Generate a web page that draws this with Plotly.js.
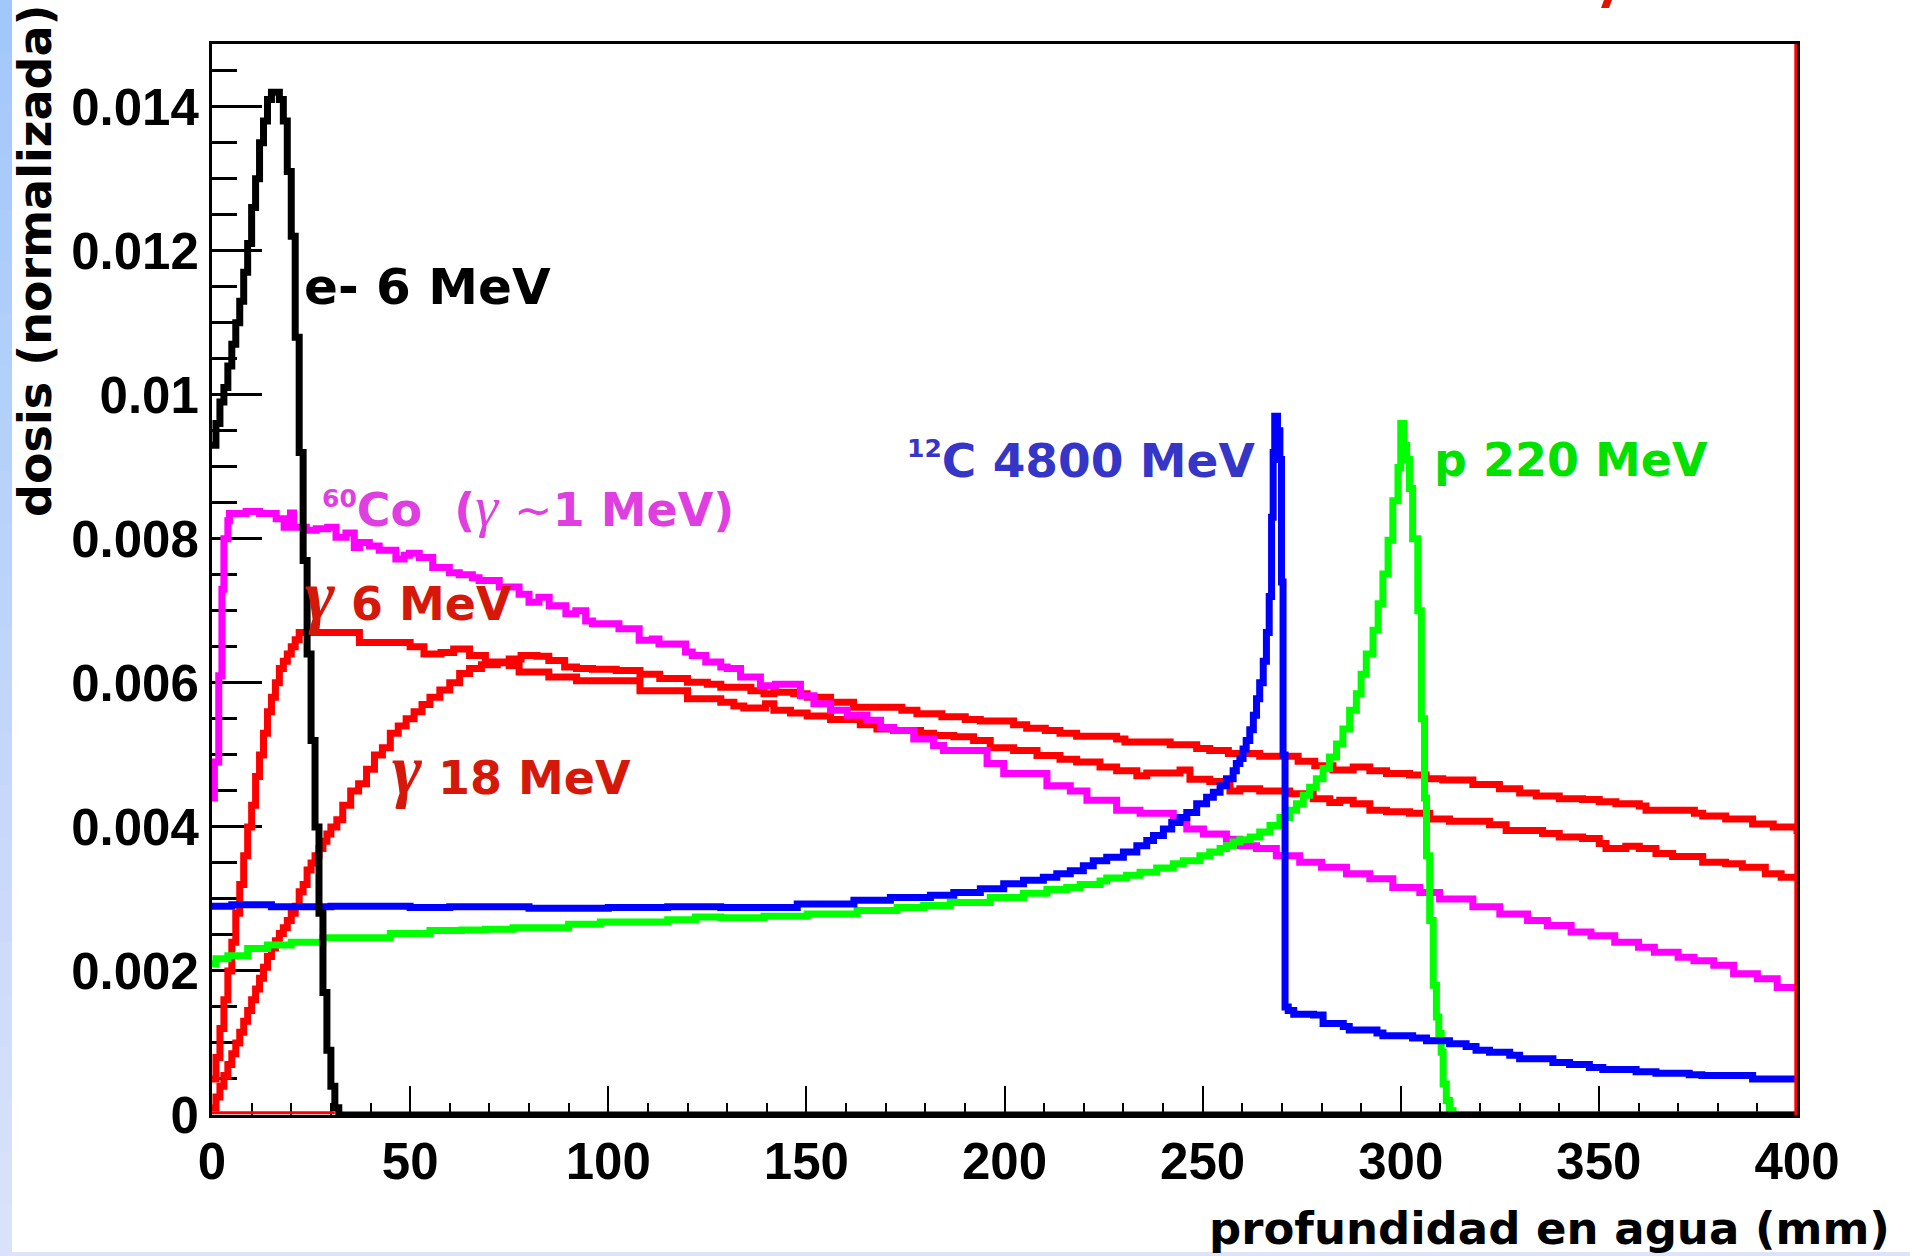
<!DOCTYPE html>
<html>
<head>
<meta charset="utf-8">
<script src="https://cdn.plot.ly/plotly-3.0.1.min.js"></script>
<style>
  html, body { margin: 0; padding: 0; background: #ffffff; }
  #chart { width: 1910px; height: 1256px; }
</style>
</head>
<body>
<div id="chart"></div>
<script>
// ---------------- data (depth in mm, normalised dose) ----------------
const electronX = [0,1,2,3,4,5,6,7,8,9,10,11,12,13,14,15,16,17,18,19,20,21,22,23,24,25,26,27,28,29,30,31,32,400];
const electronY = [0.0093,0.0096,0.0099,0.0101,0.0104,0.0107,0.0110,0.0113,0.0117,0.0121,0.0126,0.0130,0.0135,0.0138,0.0141,0.0142,0.0142,0.0141,0.0138,0.0131,0.0122,0.0108,0.0092,0.0077,0.0064,0.0052,0.0040,0.0028,0.0017,0.0009,0.0004,0.0001,0,0];

const cobaltX = [0,0.6,1.7,2.5,3.0,4.0,4.4,8.6,12,16.2,18.2,19.8,20.6,23.8,26.3,29.2,31.3,33.8,35.9,37.2,39.7,42.2,46.4,48.5,49.8,52.3,55.7,59.9,62.4,65.7,67.4,72.5,77.5,80,82.5,85.1,89.3,91.8,94.3,96,102.7,107.8,111.1,112.8,119.5,121.2,124.6,128.4,130,133.4,138.4,142.2,148.5,151.9,156.1,160.3,165.3,168.7,172,177.1,182.1,184.6,195.6,199.8,210.7,216.6,220.8,228.3,234.2,242.6,246,250.2,256,259.4,263.6,268.6,274.5,280,286.3,292.2,298,304.8,309.8,318.2,325,332,337,343,348,354,360,364,370,374,379,384,390,395,400];
const cobaltY = [0.0044,0.0049,0.0061,0.0073,0.0080,0.00825,0.00835,0.00838,0.00835,0.00828,0.00816,0.00836,0.00816,0.00812,0.00814,0.00816,0.00802,0.00808,0.00788,0.00795,0.0079,0.00784,0.00772,0.00777,0.0078,0.00774,0.0076,0.00753,0.0075,0.00746,0.00742,0.00733,0.00723,0.00712,0.00719,0.00707,0.00696,0.007,0.00686,0.00682,0.00675,0.00659,0.00661,0.00654,0.00643,0.00638,0.00629,0.00622,0.0062,0.00608,0.00596,0.00598,0.00582,0.00571,0.00562,0.00555,0.00548,0.00538,0.00534,0.00522,0.00513,0.00506,0.00488,0.00474,0.00457,0.0045,0.00437,0.00423,0.00419,0.00409,0.00397,0.0039,0.00383,0.00374,0.0037,0.0036,0.00351,0.00344,0.00335,0.00328,0.00316,0.00309,0.003,0.00289,0.00279,0.0027,0.00263,0.00254,0.00249,0.0024,0.00233,0.00226,0.00219,0.00214,0.00208,0.00196,0.00189,0.00177,0.00177];

const gamma6X = [0,1,2,3,4,5,6,7,8,9,10,11,12,13,14,15,16,17,18,19,20,21,22,24.6,37.2,46.5,50,53.5,57.8,61,65,69,75,77.5,85,92,108,120,128.4,131.7,134.2,139.7,141.8,146,150.2,156.1,163.6,167.8,172,178.8,182.1,187.2,192.2,196.4,202.3,208.2,214,218.2,224.1,228.3,233.4,235.9,244.3,246.8,251.8,256.9,259.4,264.4,272,277.9,282.1,284.6,288,292.2,296.4,302.2,307.3,312.3,322.4,326.6,335.8,340,345.9,350.1,351.8,356.8,360.2,364.4,368.6,376.2,382,386.2,392,396,400];
const gamma6Y = [0.0005,0.0008,0.0012,0.0016,0.0020,0.0024,0.0028,0.0032,0.0036,0.0040,0.0043,0.0047,0.0050,0.0053,0.0056,0.0058,0.0060,0.0062,0.0063,0.0064,0.0065,0.0066,0.0067,0.0067,0.00656,0.00656,0.0065,0.0064,0.00642,0.00647,0.00638,0.00629,0.00624,0.00615,0.00608,0.00603,0.00589,0.00578,0.00573,0.00568,0.00565,0.00571,0.00562,0.00558,0.00554,0.00549,0.00542,0.00536,0.00534,0.0053,0.00527,0.00525,0.0052,0.0051,0.00506,0.00499,0.00494,0.0049,0.00483,0.00478,0.00471,0.00475,0.00479,0.00466,0.00463,0.0045,0.00453,0.0045,0.00446,0.00439,0.00434,0.00437,0.00432,0.00423,0.00421,0.00419,0.00411,0.00408,0.00403,0.00395,0.00391,0.00386,0.00384,0.00377,0.0037,0.00373,0.0037,0.00363,0.00359,0.00351,0.00349,0.00344,0.00335,0.0033,0.0033];

const gamma18X = [0,1,2,3,4,5,6,7,8,9,10,11,12,13,14,15,16,17,18,19,20,21,22,23,24,25,26,27,28,29,30,31.5,33,35,37,39,41,43,45,47,49,51,53,55,57.5,60,62.5,65,68,72,75,78,82,85,89,92,96,102,108,113,120,125,128.4,136,139.3,141.8,146.8,150.2,156.1,161.9,174.1,177.9,184.2,190.1,193.9,202.3,205.6,210.3,214,218.2,228.3,230.4,241.8,248.5,251.8,256.5,264.4,274.1,278.3,282.9,288,292.2,296.4,302.2,306.4,310.6,318.2,324.9,330,334.2,340,345.9,350.1,354.3,360.2,361.9,374.1,376.2,382,388.8,394,400];
const gamma18Y = [0.0001,0.00025,0.0004,0.00055,0.0007,0.00085,0.001,0.00115,0.0013,0.00145,0.0016,0.00175,0.0019,0.00205,0.0022,0.00232,0.00242,0.00252,0.0026,0.0027,0.0028,0.0029,0.0031,0.0032,0.0034,0.0035,0.0036,0.0037,0.0038,0.0039,0.0040,0.0041,0.0043,0.0045,0.0046,0.0048,0.0050,0.0051,0.0053,0.0054,0.0055,0.0056,0.0057,0.0058,0.0059,0.0060,0.00613,0.0062,0.00625,0.00628,0.00633,0.00638,0.00637,0.00631,0.00622,0.0062,0.00619,0.00617,0.00612,0.00606,0.00601,0.00598,0.00594,0.00589,0.00585,0.00587,0.00585,0.0058,0.00573,0.00566,0.00562,0.00557,0.00553,0.00549,0.00547,0.00542,0.00537,0.00534,0.0053,0.00526,0.00522,0.00518,0.00514,0.00509,0.00506,0.00502,0.00498,0.00491,0.00485,0.00479,0.00483,0.00478,0.00474,0.00472,0.00467,0.00465,0.00459,0.00453,0.00447,0.00443,0.00439,0.00438,0.00435,0.00432,0.00429,0.00423,0.00419,0.00415,0.00411,0.00404,0.004,0.0039];

const carbonX = [0,5,15,30,50,60,80,100,115,128.4,147.7,162,171.2,181.3,187.2,193.9,199.8,204.8,209.8,213.2,216.6,219.9,222.4,225.8,230,233.4,235.9,237.6,240.1,242.2,244.3,246,248.5,251,252.7,254.4,256,257.7,258.5,259.4,260.2,261,261.9,262.8,263.6,264.4,265.3,266.1,266.8,267.4,267.8,268.2,268.9,269.5,269.9,270.3,270.8,271.6,273,278,280.4,285.5,287,294,295.5,303,306.5,312.3,316.5,319,322.4,327.5,330,338.4,342.6,347.6,351,359.4,364.4,372.8,376,388.8,400];
const carbonY = [0.0029,0.00292,0.00289,0.0029,0.00288,0.00289,0.00287,0.00288,0.00289,0.00288,0.00293,0.00298,0.00302,0.00305,0.00309,0.00314,0.00321,0.00326,0.0033,0.00335,0.00339,0.00346,0.00353,0.00358,0.00365,0.00374,0.00381,0.00388,0.00397,0.00406,0.00413,0.0042,0.00432,0.00441,0.00448,0.00457,0.00467,0.00478,0.00488,0.00495,0.00508,0.0052,0.00535,0.00555,0.00578,0.006,0.0063,0.0067,0.0072,0.0083,0.0092,0.0097,0.0095,0.0091,0.0074,0.0050,0.0015,0.00145,0.0014,0.00139,0.00127,0.00123,0.00118,0.00114,0.0011,0.00107,0.00103,0.00099,0.00095,0.0009,0.00087,0.00083,0.00078,0.00073,0.0007,0.00066,0.00063,0.0006,0.00058,0.00056,0.00055,0.0005,0.0005];

const protonX = [0,1,4,9,14,20,28,45,55,63,69,76,90,98,115,122,128.4,139.3,150.2,162.8,172.9,179.6,186.3,196.4,204.8,210.7,215.7,219.1,224.1,225.8,230.8,234.2,238.4,242.6,245.1,249.3,251.8,254.4,256,257.7,259.4,262,264.4,267,269.5,272,273.7,275.4,277,278.7,280.4,282,283.8,285.4,287.1,288.8,290,291.3,293,294.3,295.5,296.8,298,299.3,300,300.8,301.5,302.2,303,304.3,305.2,306,306.5,307.3,308.2,309,309.6,310.2,310.7,311.5,312.3,313.2,400];
const protonY = [0.0021,0.00217,0.00221,0.00231,0.00236,0.0024,0.00246,0.00252,0.00256,0.00257,0.00258,0.0026,0.00265,0.00268,0.00271,0.00275,0.00274,0.00276,0.00279,0.00284,0.00288,0.00291,0.00295,0.00302,0.00308,0.00313,0.00316,0.0032,0.00325,0.00329,0.00333,0.00337,0.00343,0.00349,0.00353,0.0036,0.00365,0.0037,0.00374,0.00379,0.00382,0.00386,0.00393,0.00402,0.00413,0.00423,0.00432,0.00444,0.00455,0.00467,0.00481,0.00497,0.00515,0.00536,0.00562,0.00585,0.00612,0.0064,0.00673,0.0071,0.00751,0.00798,0.00853,0.00899,0.0096,0.0093,0.0091,0.0087,0.0080,0.0070,0.0055,0.0044,0.0036,0.0027,0.0018,0.00136,0.00113,0.00087,0.00043,0.0002,0.00006,0,0];

const xTickVals = [0,50,100,150,200,250,300,350,400];
const xTickText = ['0','50','100','150','200','250','300','350','400'];
const yTickVals = [0,0.002,0.004,0.006,0.008,0.01,0.012,0.014];
const yTickText = ['0','0.002','0.004','0.006','0.008','0.01','0.012','0.014'];

const xTitle = 'profundidad en agua (mm)';
const yTitle = 'dosis (normalizada)';

// ---------------- styling ----------------
const LBL = 'DejaVu Sans';
function histo(x, y, color, name) {
  return { x: x, y: y, name: name, type: 'scatter', mode: 'lines',
           line: { shape: 'hv', width: 7, color: color, simplify: false },
           hoverinfo: 'skip', showlegend: false };
}
const traces = [
  histo(gamma6X, gamma6Y, '#ff0000', 'γ 6 MeV'),
  histo(gamma18X, gamma18Y, '#ff0000', 'γ 18 MeV'),
  histo(cobaltX, cobaltY, '#ff00ff', '60Co'),
  histo(protonX, protonY, '#00ff00', 'p 220 MeV'),
  histo(carbonX, carbonY, '#0000ff', '12C 4800 MeV'),
  histo(electronX, electronY, '#000000', 'e- 6 MeV')
];

const serifG = '<span style="font-family:\'Liberation Serif\';font-style:italic;font-size:72px">γ</span>';
function label(x, y, text, color, size) {
  return { x: x, y: y, xref: 'x', yref: 'y', text: text, showarrow: false,
           xanchor: 'left', yanchor: 'middle',
           font: { family: LBL, size: size, color: color, weight: 'bold' } };
}

const annotations = [
  label(22.8, 0.01149, 'e- 6 MeV', '#000000', 50),
  label(27.2, 0.00845, '<sup><span style="font-size:25px">60</span></sup>Co  (' + '<span style="font-family:\'Liberation Serif\';font-style:italic;font-weight:normal;font-size:58px">γ</span> <span style="font-weight:normal">~</span>1 MeV)', '#df3ee0', 46),
  label(23.0, 0.0072, serifG + ' 6 MeV', '#d6180a', 46),
  label(45.0, 0.00479, serifG + ' 18 MeV', '#d6180a', 46),
  label(175.0, 0.00909, '<sup><span style="font-size:25px">12</span></sup>C 4800 MeV', '#3535c8', 47),
  label(308.0, 0.0091, 'p 220 MeV', '#00e100', 46),
  { xref: 'paper', yref: 'paper', x: 1.06, y: -0.1064, xanchor: 'right', yanchor: 'middle',
    text: xTitle, showarrow: false, font: { family: LBL, size: 45, color: '#000', weight: 'bold' } },
  { xref: 'paper', yref: 'paper', x: -0.1117, y: 0.7974, xanchor: 'center', yanchor: 'middle',
    textangle: -90, text: yTitle, showarrow: false, font: { family: LBL, size: 46, color: '#000', weight: 'bold' } }
];

// decorative page elements (left gradient strip, bottom rule, cut-off red glyph)
const shapes = [];
const nBands = 24;
for (let i = 0; i < nBands; i++) {
  const t = i / (nBands - 1);
  const r = Math.round(162 + (218 - 162) * t), g = Math.round(200 + (225 - 200) * t), b = 250;
  const py0 = 1256 * i / nBands, py1 = 1256 * (i + 1) / nBands + 1;
  shapes.push({ type: 'rect', xref: 'paper', yref: 'paper', layer: 'below',
    x0: (0 - 212) / 1585, x1: (12 - 212) / 1585,
    y0: (1115 - py0) / 1071, y1: (1115 - py1) / 1071,
    fillcolor: 'rgb(' + r + ',' + g + ',' + b + ')', line: { width: 0 } });
}
shapes.push({ type: 'rect', xref: 'paper', yref: 'paper', layer: 'below',
  x0: (12 - 212) / 1585, x1: (1910 - 212) / 1585, y0: (1115 - 1252) / 1071, y1: (1115 - 1257) / 1071,
  fillcolor: '#dde3fa', line: { width: 0 } });
shapes.push({ type: 'path', xref: 'paper', yref: 'paper',
  path: 'M ' + ((1604 - 212) / 1585) + ' ' + ((1115 - 0) / 1071) + ' L ' + ((1612 - 212) / 1585) + ' ' + ((1115 - 0) / 1071) +
        ' L ' + ((1609 - 212) / 1585) + ' ' + ((1115 - 8) / 1071) + ' L ' + ((1601 - 212) / 1585) + ' ' + ((1115 - 8) / 1071) + ' Z',
  fillcolor: '#dc1400', line: { width: 0 } });
// red histogram edges on the frame
shapes.push({ type: 'line', xref: 'x', yref: 'paper', x0: 399.7, x1: 399.7, y0: 0, y1: 1,
  line: { color: '#ff0000', width: 3 } });
shapes.push({ type: 'line', xref: 'x', yref: 'y', x0: 0, x1: 31, y0: 0.00003, y1: 0.00003,
  line: { color: '#ff0000', width: 3 } });

const layout = {
  width: 1910, height: 1256,
  margin: { l: 212, r: 113, t: 44, b: 141, pad: 0 },
  paper_bgcolor: '#ffffff', plot_bgcolor: '#ffffff',
  showlegend: false,
  xaxis: {
    range: [0, 400], tickvals: xTickVals, ticktext: xTickText,
    ticks: 'inside', ticklen: 29, tickwidth: 2, tickcolor: '#000',
    minor: { dtick: 10, tick0: 0, ticks: 'inside', ticklen: 12, tickwidth: 2, tickcolor: '#000' },
    showline: true, linewidth: 3, linecolor: '#000', mirror: true,
    showgrid: false, zeroline: false, layer: 'below traces',
    tickfont: { family: 'Liberation Sans', size: 51, color: '#000', weight: 'bold' }
  },
  yaxis: {
    range: [0, 0.01487], tickvals: yTickVals, ticktext: yTickText,
    ticks: 'inside', ticklen: 50, tickwidth: 3, tickcolor: '#000',
    minor: { dtick: 0.0005, tick0: 0, ticks: 'inside', ticklen: 25, tickwidth: 3, tickcolor: '#000' },
    showline: true, linewidth: 3, linecolor: '#000', mirror: true,
    showgrid: false, zeroline: false, layer: 'below traces',
    tickfont: { family: 'Liberation Sans', size: 51, color: '#000', weight: 'bold' }
  },
  annotations: annotations,
  shapes: shapes
};

Plotly.newPlot('chart', traces, layout, { displayModeBar: false, staticPlot: true });
</script>
</body>
</html>
